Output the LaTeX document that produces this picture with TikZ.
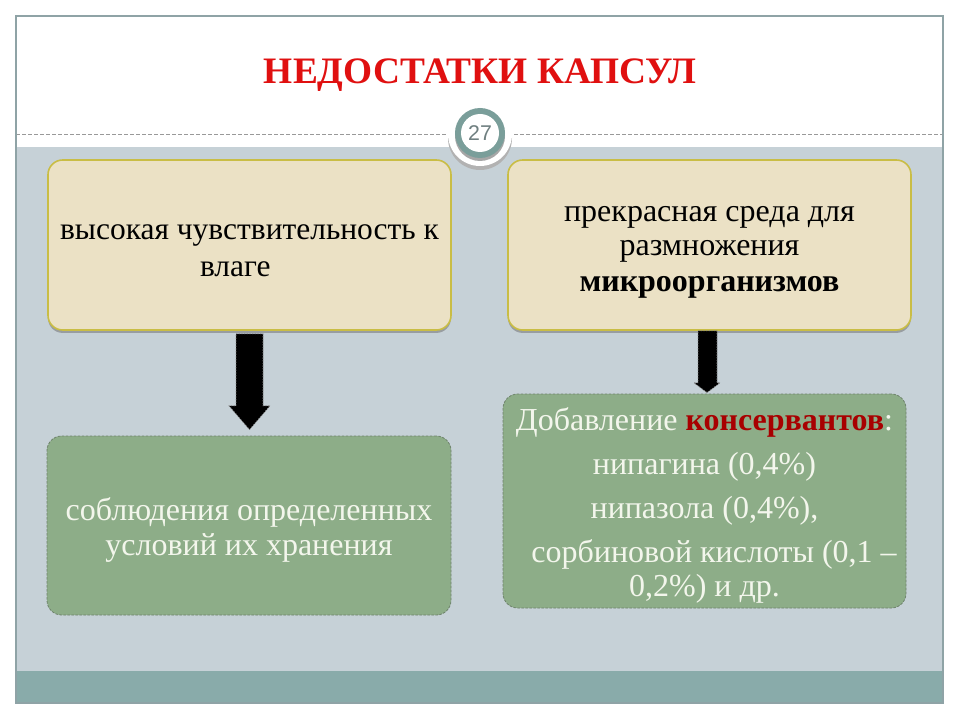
\documentclass[tikz,border=0pt]{standalone}
\usepackage{fontspec}
\setmainfont{Liberation Serif}
\newfontfamily\sansf{Liberation Sans}
\usetikzlibrary{calc,shadows}
\definecolor{frameC}{HTML}{8FA3A6}
\definecolor{bandC}{HTML}{C6D1D7}
\definecolor{footC}{HTML}{89ABAA}
\definecolor{beigeC}{HTML}{EBE1C5}
\definecolor{beigeB}{HTML}{C9BD45}
\definecolor{greenC}{HTML}{8DAD88}
\definecolor{greenB}{HTML}{6E826B}
\definecolor{titleC}{HTML}{E01010}
\definecolor{ringC}{HTML}{7A9E9A}
\definecolor{numC}{HTML}{6F7F80}
\definecolor{lightT}{HTML}{F3F6EC}
\definecolor{darkR}{HTML}{A80000}
\tikzset{
  beigebox/.style={draw=beigeB, line width=1.2pt, fill=beigeC, rounded corners=11pt,
    drop shadow={shadow xshift=0pt, shadow yshift=-2.2pt, fill=black!55, opacity=.55},
    inner sep=0pt},
  greenbox/.style={draw=greenB, dashed, dash pattern=on 2pt off 1pt, line width=0.6pt, fill=greenC,
    rounded corners=11pt, inner sep=0pt},
  darktext/.style={align=center, text=black, inner sep=0pt},
  lighttext/.style={align=center, text=lightT, inner sep=0pt},
  bigarrow/.style={fill=black, draw=black!45, dash pattern=on 1pt off 1pt, line width=0.5pt},
}
\begin{document}
\begin{tikzpicture}[x=0.75pt,y=-0.75pt]
\useasboundingbox (0,0) rectangle (960,720);
\fill[white] (0,0) rectangle (960,720);
% bands
\fill[bandC] (16,147) rectangle (943,671);
\fill[footC] (16,671) rectangle (943,703);
\draw[black!40, dashed, dash pattern=on 3pt off 1.5pt, line width=0.6pt] (16,134) -- (943,134);
\draw[frameC, line width=0.9pt] (16,16) rectangle (943,703);
% title
\node[font=\fontsize{28}{32}\selectfont\bfseries, text=titleC] (title) at (480,75) {НЕДОСТАТКИ КАПСУЛ};
% badge
\fill[black!30] (480,138) circle (32);
\fill[white] (480,134) circle (32);
\fill[black!35] (480,136) circle (25);
\fill[ringC] (480,133) circle (25);
\fill[white] (480,133) circle (19);
\node[font=\sansf\fontsize{16}{18}\selectfont, text=numC] (num) at (480,133) {27};
% boxes
\node[beigebox, minimum width=302.25pt, minimum height=127.5pt] (b1) at (249.5,245) {};
\node[darktext, font=\fontsize{23.6}{28}\selectfont] (b1t) at ($(b1.center)+(0,5.5)$)
  {высокая чувствительность к\\влаге\hspace*{0.9em}};
\node[beigebox, minimum width=302.25pt, minimum height=127.5pt] (b2) at (709.5,245) {};
\node[darktext, font=\fontsize{24}{25.5}\selectfont] (b2t) at ($(b2.center)+(0,7.5)$)
  {прекрасная среда для\\размножения\\[1.5pt]\textbf{микроорганизмов}};
\node[greenbox, minimum width=303pt, minimum height=134.25pt] (g1) at (249,525.5) {};
\node[lighttext, font=\fontsize{24}{26}\selectfont] (g1t) at ($(g1.center)+(0,4.5)$)
  {соблюдения определенных\\условий их хранения};
\node[greenbox, minimum width=302.25pt, minimum height=160.5pt] (g2) at (704.5,501) {};
\node[lighttext, font=\fontsize{24}{25}\selectfont] (g2t) at ($(g2.center)+(0,4.5)$)
  {Добавление \textcolor{darkR}{\textbf{консервантов}}:\\[8pt]
   нипагина (0,4\%)\\[8pt]
   нипазола (0,4\%),\\[8pt]
   \hspace*{0.6em}сорбиновой кислоты (0,1 –\\
   0,2\%) и др.};
% arrows
\path[bigarrow] ($(b1.south)+(-13.5,3)$) -- ($(b1.south)+(13.5,3)$) -- ($(b1.south)+(13.5,75)$)
  -- ($(b1.south)+(20.5,75)$) -- ($(g1.north)+(0.5,-6)$) -- ($(b1.south)+(-20.5,75)$)
  -- ($(b1.south)+(-13.5,75)$) -- cycle;
\path[bigarrow] ($(b2.south)+(-11.5,0)$) -- ($(b2.south)+(7.5,0)$) -- ($(b2.south)+(7.5,52)$)
  -- ($(b2.south)+(10.5,52)$) -- ($(g2.north)+(2.5,-1)$) -- ($(b2.south)+(-15.5,52)$)
  -- ($(b2.south)+(-11.5,52)$) -- cycle;
\end{tikzpicture}
\end{document}
